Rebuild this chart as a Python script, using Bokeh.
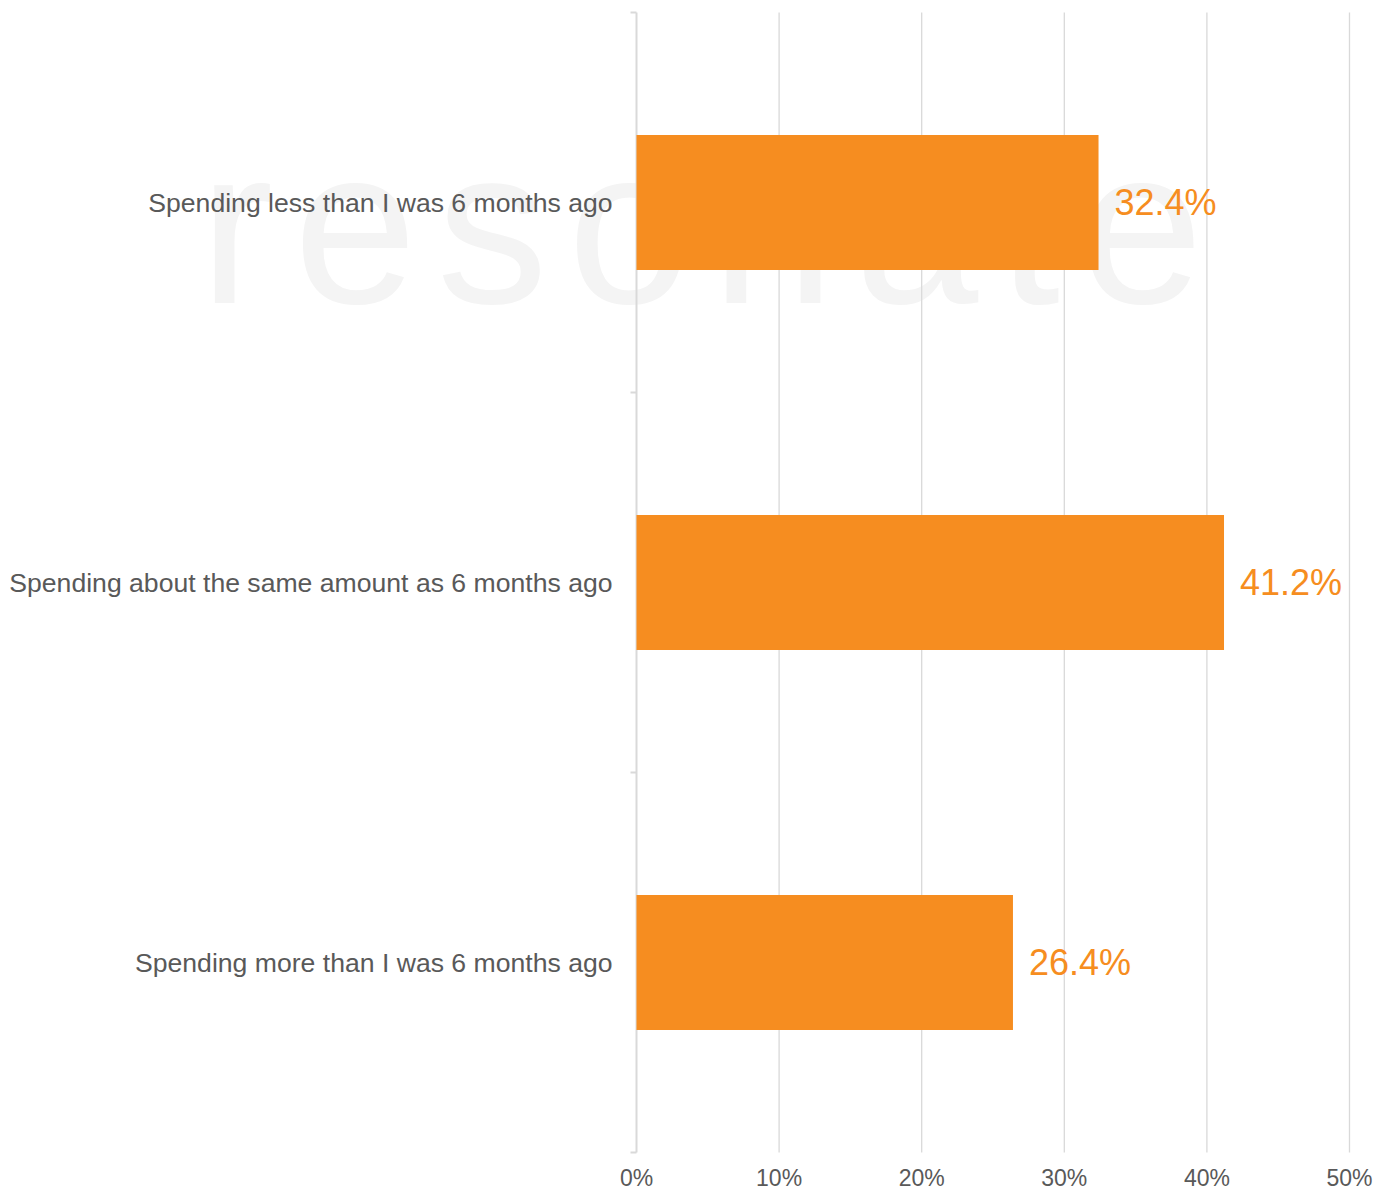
from bokeh.plotting import figure
from bokeh.models import Range1d, ColumnDataSource
from bokeh.core.properties import value
from bokeh.embed import file_html
from bokeh.resources import INLINE

categories = [
    "Spending less than I was 6 months ago",
    "Spending about the same amount as 6 months ago",
    "Spending more than I was 6 months ago",
]
values = [32.4, 41.2, 26.4]
x_ticks = [0, 10, 20, 30, 40, 50]
tick_labels = ["0%", "10%", "20%", "30%", "40%", "50%"]
watermark = "resonate"

ORANGE = "#F68D20"
GRAY_TEXT = "#595959"
GRID = "#D9D9D9"
FONT = "Liberation Sans"

# layout (screen pixels)
W, H = 1377, 1189
X0_PX, X50_PX = 636, 1349          # pixel of 0% and 50%
Y_TOP_PX, Y_BOT_PX = 12, 1152      # pixel of top / bottom of category band
n = len(categories)
ppx = (X50_PX - X0_PX) / 50.0
ppy = (Y_BOT_PX - Y_TOP_PX) / n

x_range = Range1d(-X0_PX / ppx, (W - X0_PX) / ppx)
y_range = Range1d(-(H - Y_BOT_PX) / ppy, n + Y_TOP_PX / ppy)

y_pos = [n - i - 0.5 for i in range(n)]
boundaries = list(range(n + 1))
labels = [f"{v:.1f}%" for v in values]

p = figure(width=W, height=H, output_backend="svg", toolbar_location=None,
           x_range=x_range, y_range=y_range, min_border=0)
p.outline_line_color = None
p.axis.visible = False
p.grid.visible = False
p.background_fill_color = "white"
p.border_fill_color = "white"

# faint, widely tracked watermark (decoration)
WM_SIZE = 222
WM_TRACK = 20
adv = {"r": 333, "e": 556, "s": 500, "o": 556, "n": 556, "a": 556, "t": 278}
wm_x_px, cur = [], 199.0
for ch in watermark:
    wm_x_px.append(cur)
    cur += adv[ch] * WM_SIZE / 1000.0 + WM_TRACK
wm_y_px = 305 - 0.36 * WM_SIZE
p.text(x=[(xp - X0_PX) / ppx for xp in wm_x_px], y=[n - (wm_y_px - Y_TOP_PX) / ppy] * len(watermark),
       text=list(watermark), text_font=value(FONT), text_font_size=f"{WM_SIZE}px",
       text_color="#F4F4F4", text_baseline="alphabetic", text_align="left")

# vertical gridlines
p.segment(x0=x_ticks[1:], y0=0, x1=x_ticks[1:], y1=n, line_color=GRID, line_width=1.3)
# category axis line and boundary ticks
p.segment(x0=[0], y0=[0], x1=[0], y1=[n], line_color=GRID, line_width=2)
p.segment(x0=-6 / ppx, y0=boundaries, x1=0, y1=boundaries, line_color=GRID, line_width=2)

src = ColumnDataSource(dict(y=y_pos, v=values, lab=labels, cat=categories))
p.hbar(y="y", right="v", left=0, height=0.355, source=src, fill_color=ORANGE, line_color=None)
p.text(x="v", y="y", text="lab", source=src, x_offset=16, text_baseline="middle", text_align="left",
       text_color=ORANGE, text_font=value(FONT), text_font_size="36px")

# category labels
p.text(x=0, y="y", text="cat", source=src, x_offset=-24, text_baseline="middle", text_align="right",
       text_color=GRAY_TEXT, text_font=value(FONT), text_font_size="26.6px")

# value-axis tick labels
p.text(x=x_ticks, y=[0] * len(x_ticks), text=tick_labels, y_offset=25, text_baseline="middle",
       text_align="center", text_color=GRAY_TEXT, text_font=value(FONT), text_font_size="23px")

open("out.html", "w").write(file_html(p, INLINE))
